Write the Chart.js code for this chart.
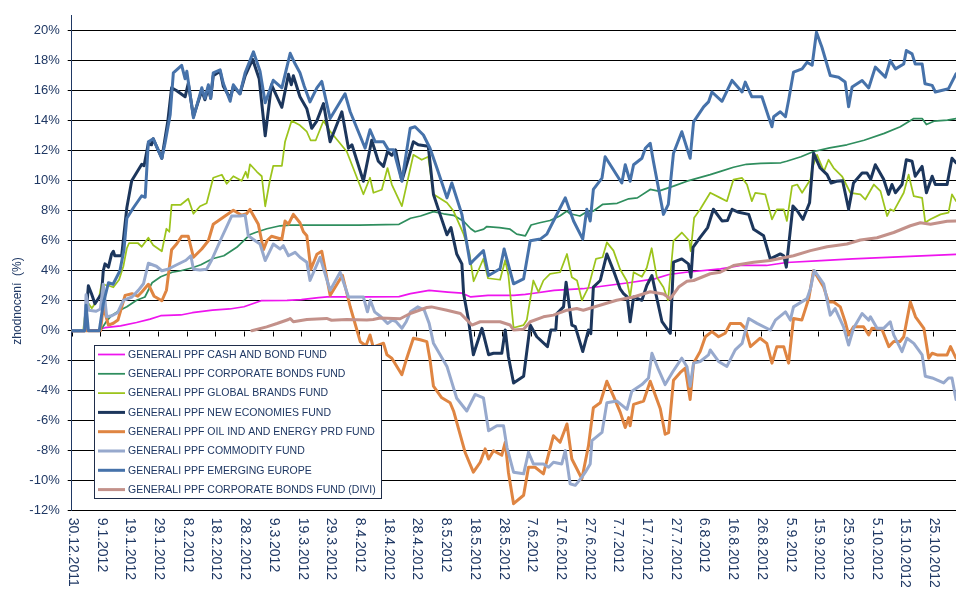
<!DOCTYPE html>
<html><head><meta charset="utf-8">
<script src="https://cdn.jsdelivr.net/npm/chart.js@4/dist/chart.umd.min.js"></script>
<style>html,body{margin:0;padding:0;background:#fff}canvas{display:block}</style>
</head><body><canvas id="c" width="964" height="598"></canvas>
<script>
// x values: days since 30.12.2011, y values: %
const seriesNames = [
  'GENERALI PPF CASH AND BOND FUND',
  'GENERALI PPF CORPORATE BONDS FUND',
  'GENERALI PPF GLOBAL BRANDS FUND',
  'GENERALI PPF NEW ECONOMIES FUND',
  'GENERALI PPF OIL IND AND ENERGY PRD FUND',
  'GENERALI PPF COMMODITY FUND',
  'GENERALI PPF EMERGING EUROPE',
  'GENERALI PPF CORPORATE BONDS FUND (DIVI)'
];
const tickLabels = ['30.12.2011','9.1.2012','19.1.2012','29.1.2012','8.2.2012','18.2.2012','28.2.2012','9.3.2012','19.3.2012','29.3.2012','8.4.2012','18.4.2012','28.4.2012','8.5.2012','18.5.2012','28.5.2012','7.6.2012','17.6.2012','27.6.2012','7.7.2012','17.7.2012','27.7.2012','6.8.2012','16.8.2012','26.8.2012','5.9.2012','15.9.2012','25.9.2012','5.10.2012','15.10.2012','25.10.2012'];
const tickStepDays = 10;
const yTickValues = [-12,-10,-8,-6,-4,-2,0,2,4,6,8,10,12,14,16,18,20];

const cashBond = [[0,0],[4,0],[9,0.05],[11.6,0.2],[17,0.33],[22.6,0.55],[27.3,0.77],[31,1.0],[38,1.05],[42,1.2],[49,1.37],[55,1.45],[60,1.6],[63,1.8],[66,2.0],[75,2.03],[80,2.07],[86,2.2],[89,2.25],[103,2.25],[114,2.28],[118,2.47],[124.5,2.69],[131,2.58],[136,2.5],[139,2.25],[145,2.36],[154,2.36],[158,2.43],[161,2.5],[168,2.69],[178,2.8],[186,3.0],[194,3.2],[203,3.46],[208,3.75],[214,3.9],[226,4.13],[233,4.35],[242,4.35],[249,4.55],[261,4.68],[272,4.79],[284,4.9],[296,5.0],[308,5.1]];

const corporateBonds = [[0,0],[10,0],[12,0.6],[14,1.04],[16.8,1.37],[19.2,1.6],[22.6,2.03],[25.5,2.25],[28,3.2],[31,3.6],[35,3.9],[38,4.0],[42,4.2],[45,4.4],[49,4.8],[53,5.0],[57.5,5.56],[62,6.4],[64,6.55],[68,6.8],[72.6,7.0],[76,7.05],[86,7.05],[100,7.05],[114,7.1],[118,7.5],[121.5,7.65],[126,7.94],[129.5,7.8],[133,7.7],[136.5,7.3],[139,6.8],[140.5,6.6],[143.5,6.77],[144.6,6.95],[149,6.88],[152.7,6.77],[155,6.44],[158,6.33],[160,7.05],[163,7.2],[166.6,7.35],[170,7.65],[172.5,7.98],[173.6,7.8],[177,7.65],[179.4,7.94],[181.7,7.98],[185,8.43],[190,8.5],[194,8.8],[197,8.86],[201.5,9.42],[204.4,9.31],[209.6,9.64],[214.3,9.97],[222.4,10.41],[226,10.63],[230.5,10.9],[235,11.1],[240,11.16],[247,11.2],[249,11.3],[254,11.6],[258.4,11.95],[264,12.2],[270,12.4],[276,12.7],[283,13.16],[288.6,13.6],[293.3,14.15],[296.2,14.15],[297.7,13.75],[300.3,13.97],[305,14.04],[308,14.15]];

const globalBrands = [[0,0],[4,0],[5.2,2.0],[7,1.5],[9.5,2.2],[10.4,3.1],[13,3.0],[14.5,2.9],[16.5,3.4],[18,4.3],[19.2,5.5],[20,5.85],[23,5.85],[24.4,5.6],[26.7,6.2],[28.4,5.7],[31.4,5.3],[33,6.8],[34,6.6],[34.8,8.4],[38,8.4],[40.6,8.8],[42.4,7.8],[44.7,8.3],[47,8.5],[49.3,10.2],[52.3,10.4],[54,9.8],[56.3,10.3],[59.2,10.0],[60.6,10.6],[61.3,10.2],[62.1,11.1],[64.5,10.6],[66.2,10.3],[67.4,8.3],[69,10.0],[70.2,11.0],[73.2,11.0],[74.3,12.6],[76.6,14.0],[79.5,13.7],[81.9,13.27],[83.2,12.7],[85,12.7],[87.7,14.0],[90,13.3],[95.8,11.95],[101.6,9.1],[103.9,10.2],[105.1,9.2],[108,9.4],[110,10.85],[111.5,9.75],[115,8.31],[119,11.73],[121.9,11.4],[124.2,11.6],[126,9.1],[130.7,8.53],[133,7.98],[136.5,6.44],[138.5,5.2],[140,3.3],[143.4,4.8],[145,3.5],[149.2,3.4],[151,4.7],[152.1,3.7],[153.9,0.2],[157.4,0.38],[158.5,0.71],[160.8,3.35],[162.6,2.58],[164.3,3.35],[166.6,3.79],[170.1,3.9],[172.5,5.12],[174.2,3.57],[176,3.35],[177.7,2.03],[180,2.91],[182.6,4.79],[184.9,4.9],[186.4,5.89],[188.7,5.34],[191,4.1],[193.4,3.3],[194.5,2.25],[195.7,3.9],[198.6,3.6],[200.3,4.2],[202,5.5],[203.8,3.57],[206.1,2.9],[207.7,2.03],[209.6,6.0],[212.5,6.55],[215.1,6.0],[215.6,5.3],[216.8,7.54],[218.9,8.1],[222.4,9.2],[225.9,8.86],[228.2,8.64],[230.5,10.08],[233.5,10.19],[235.2,9.75],[236.9,8.64],[238.1,9.2],[241.6,9.09],[243.9,7.43],[245.6,8.1],[248,8.1],[249.1,7.32],[250.9,9.64],[252.7,9.75],[254.4,9.2],[257.3,10.08],[257.9,10.85],[259.6,11.73],[262,10.63],[263.6,11.4],[265.4,10.85],[268.3,10.3],[271.2,9.2],[274.7,9.09],[276.4,8.75],[279.4,9.75],[281.7,9.31],[284,7.65],[285.1,8.1],[286.3,7.98],[289.8,9.2],[291.5,10.41],[293.3,8.97],[296.2,8.86],[297.3,7.21],[299.1,7.43],[302.6,7.76],[305.4,7.87],[306.6,9.09],[308,8.64]];

const newEconomies = [[0,0],[4.6,0],[5.8,3.0],[6.9,2.47],[8.1,1.8],[10.4,2.47],[11,4.0],[11.6,4.46],[12.8,4.24],[13.9,5.12],[14.5,5.3],[15,5.0],[17.4,5.0],[19.2,8.2],[20.9,10.0],[24.4,11.1],[25.2,11.0],[26.7,12.5],[27.8,12.4],[28.4,12.8],[31.4,11.5],[33.5,14.0],[34.8,16.2],[36.6,16.0],[39.5,15.6],[40.6,16.5],[42.4,14.3],[45.3,16.0],[46.4,15.4],[47.6,16.2],[48.4,15.5],[49.3,17.0],[51.7,17.3],[52.8,16.3],[55.2,15.5],[56.3,16.3],[58.6,15.8],[60.4,17.0],[63,18.1],[65.3,16.8],[67.4,13.0],[69.6,16.4],[73.2,14.9],[75.5,17.1],[76.5,16.4],[77.2,17.0],[79.5,15.6],[81.9,14.8],[83.6,13.5],[85.4,14.0],[87.7,15.15],[90,12.6],[94.1,14.6],[96.4,12.17],[97.6,12.4],[101.6,9.97],[104.5,12.7],[106.8,11.3],[108.6,10.96],[110,11.95],[111.5,11.7],[112.8,12.06],[115,10.0],[119,12.6],[120.7,12.4],[124.2,12.3],[126,9.09],[128.3,7.76],[130.7,6.4],[132.1,6.88],[134.1,5.12],[135.9,4.46],[136.5,2.47],[138.2,0.71],[139.9,-1.6],[142.9,0.16],[145.2,-1.6],[146.9,-1.5],[149.8,-1.5],[151,0.05],[152.1,-1.72],[153.9,-3.48],[157.4,-3.04],[159.7,0.38],[162,-0.4],[165.7,-1.06],[166.9,0.05],[168.6,0.05],[169,1.15],[171.3,1.59],[172.2,3.24],[174.2,0.38],[175.4,0.27],[178,-1.39],[180,0.05],[180.8,-0.2],[181.7,2.91],[184.1,3.35],[186.4,5.12],[188.7,4.01],[191,2.8],[192.2,2.47],[193.5,2.25],[194.5,0.6],[195.7,2.25],[198.6,2.03],[200.3,3.02],[202.1,3.68],[203.2,2.69],[205.6,0.6],[208.5,-0.17],[209.6,4.57],[212.5,4.79],[214.8,4.46],[215.7,3.57],[216.4,5.56],[218.9,6.22],[221.5,6.88],[223.5,8.1],[226.5,7.32],[228.4,7.35],[230,8.1],[232.3,7.9],[235.8,7.76],[237.5,6.77],[241,6.33],[243.3,4.79],[246.8,5.12],[248,5.0],[248.9,4.24],[251.2,8.31],[252.7,8.0],[254.7,7.43],[257,8.53],[258.4,11.84],[260.7,10.85],[263.1,10.41],[264.5,9.85],[266.4,9.97],[268.5,10.0],[270.6,8.1],[272.3,9.85],[275.3,10.52],[277,10.52],[278.3,10.1],[279.9,11.07],[282.8,10.1],[284.5,9.09],[285.7,9.75],[286.9,9.2],[289.2,9.75],[290.7,11.4],[292.7,11.3],[293.8,10.3],[296.2,10.96],[297.7,9.2],[299.7,10.3],[300.8,9.75],[304.9,9.75],[306.6,11.5],[308,11.2]];

const oilEnergy = [[0,0],[10,0],[11,1.6],[12.8,0.38],[14.5,0.5],[16.1,0.71],[18.6,2.36],[21,2.47],[23,2.3],[24.5,2.6],[26.7,3.1],[28.7,2.3],[31.4,2.0],[33,2.7],[34.8,5.4],[36.6,5.8],[38.3,6.3],[40.6,6.3],[42.4,4.9],[45.3,5.45],[47.6,6.0],[49.3,7.1],[52.3,7.5],[56.3,8.03],[59.2,7.7],[60.9,7.8],[62.1,8.09],[65,7.1],[66.8,5.4],[68,6.0],[69.6,6.3],[73.2,6.1],[74.3,7.32],[75.5,7.1],[77.2,7.76],[79.5,7.2],[80.7,6.6],[81.9,6.33],[83.3,4.1],[85.4,5.1],[87.1,5.3],[90,2.36],[94.3,3.7],[97,1.6],[100.5,-0.73],[102.5,-1.0],[103.9,-0.28],[105,-1.1],[108.6,-0.83],[109.8,-1.6],[111.5,-1.83],[115,-2.93],[116.7,-1.83],[119,-0.5],[121.4,-0.6],[123.7,-0.73],[124.8,-1.94],[126,-3.7],[128.9,-4.47],[131.8,-4.8],[133,-5.35],[137,-8.1],[139.9,-9.43],[142.3,-8.77],[144,-7.88],[145.2,-8.55],[146.9,-8.0],[149.8,-8.3],[151,-7.44],[152.1,-9.43],[153.9,-11.53],[157.4,-10.97],[159.1,-9.1],[161.4,-9.1],[164.3,-9.54],[167.8,-7.0],[170.1,-7.44],[172.5,-6.22],[174.2,-8.55],[177.7,-9.87],[180,-7.66],[181.7,-5.13],[184.1,-4.8],[186.4,-3.37],[188.7,-4.36],[191.1,-5.46],[192.8,-6.45],[194,-5.79],[194.5,-6.34],[195.7,-4.91],[199.2,-4.69],[201.5,-3.37],[205,-5.2],[206.7,-6.9],[207.9,-6.79],[209.6,-3.3],[211.9,-2.8],[213.7,-2.49],[215.4,-4.58],[216.6,-2.16],[218.9,-1.39],[220.7,-0.4],[223,-0.06],[225.3,-0.4],[227.6,-0.17],[229.4,0.49],[232.9,0.49],[234.6,0.16],[236.4,-1.06],[239.8,-0.5],[242.1,-0.84],[243.9,-2.16],[245.6,-1.06],[248,-1.06],[249.7,-2.16],[251.4,0.82],[254.3,0.71],[256.7,2.14],[258.4,4.02],[261.9,2.91],[263.6,1.92],[265.4,1.92],[267.7,1.59],[269.4,0.6],[270.6,-0.28],[272.3,0.27],[275.8,0.27],[277.6,-0.28],[278.7,0.16],[282.2,0.1],[284.6,-1.06],[286.3,-0.72],[288.5,-0.72],[289.8,-0.4],[292.1,1.92],[293.9,0.93],[296.8,0.16],[298.5,-1.83],[299.7,-1.5],[301.4,-1.61],[304.9,-1.61],[306.1,-1.06],[308,-1.83]];

const commodity = [[0,0],[4.5,0],[5,2.4],[6,1.37],[8.5,1.3],[10,1.45],[11,3.1],[12.2,0.93],[14,1.0],[16,1.2],[18,2.03],[21,2.25],[23.2,2.69],[25,3.13],[26.7,4.5],[29.5,4.3],[31.4,4.0],[33.5,4.1],[36.6,4.4],[39.8,4.7],[41.5,5.0],[42.4,4.1],[44.7,4.05],[47,4.1],[48.7,4.7],[52.2,6.2],[55.7,7.65],[58.6,7.65],[60.4,7.7],[61.5,6.33],[63.9,6.0],[65.6,5.78],[67.4,4.68],[70.2,5.78],[72.6,5.45],[73.7,5.67],[75.5,5.0],[77.8,5.23],[79.5,4.9],[81.9,4.57],[83,3.35],[86.5,4.9],[90,2.69],[93.5,3.9],[96.4,2.25],[101.6,2.25],[103,1.26],[104,2.03],[105.5,1.26],[107.7,0.93],[110,0.49],[111.7,0.71],[113,0.6],[115,0.16],[116.5,0.6],[118,1.26],[120.5,1.59],[122.8,1.37],[124.5,0.49],[126,-0.83],[130.7,-2.38],[134.1,-4.5],[137.6,-5.35],[140.5,-4.25],[143.4,-4.47],[145.2,-6.67],[148.1,-6.34],[150.4,-6.34],[151.6,-7.77],[153.9,-9.43],[157.4,-9.54],[159.1,-8.1],[160.8,-8.88],[164.3,-8.88],[166.1,-9.1],[167.8,-8.77],[170.7,-8.88],[171.9,-7.99],[173.6,-10.2],[175.4,-10.31],[177.7,-9.76],[178.9,-9.43],[180.6,-8.88],[181.2,-7.33],[184.7,-6.78],[186.4,-4.8],[189.9,-4.69],[193.4,-5.24],[195.1,-4.03],[198.6,-3.59],[200.9,-3.15],[202.1,-1.5],[204.4,-2.6],[206.7,-3.59],[209.3,-2.75],[212.5,-1.83],[214.3,-2.4],[215.4,-3.7],[216.6,-2.16],[218.9,-2.05],[221.8,-1.61],[222.4,-1.28],[225.3,-2.05],[228.2,-2.38],[231.1,-1.28],[233.5,-0.84],[235.8,0.82],[238.7,0.49],[243.3,0.05],[245.1,0.71],[248.6,1.26],[250.3,0.71],[251.4,1.59],[256.1,2.14],[257.3,2.8],[258.6,4.02],[261.9,3.13],[264.2,1.04],[265.9,1.48],[268.8,0.27],[270.6,-0.95],[272.3,0.16],[275.3,1.15],[277.6,0.71],[278.2,0.93],[280.5,0.16],[282.8,0.16],[285.1,0.6],[286.3,-0.28],[289.2,-1.39],[290.9,-0.5],[293.3,-0.84],[296.2,-1.61],[297.3,-3.04],[299.7,-3.15],[303.7,-3.48],[305.4,-3.15],[306.6,-3.15],[308,-4.58]];

const emergingEurope = [[0,0],[4.5,0],[5,1.7],[5.8,0],[9.6,0],[11,1.8],[12.8,3.2],[14.4,3.1],[16.8,4.0],[18.2,5.4],[19.2,7.5],[21.5,8.2],[24.4,9.0],[25.6,8.9],[26.7,12.6],[28.4,12.8],[31.4,11.5],[32.5,12.5],[34.3,14.4],[35.4,17.2],[38.3,17.7],[39.5,16.8],[40.1,17.3],[42.4,14.2],[45.3,16.2],[46.4,15.5],[47.6,16.4],[48.4,15.5],[49.3,17.2],[51.7,17.4],[52.8,16.5],[55.2,15.3],[56.3,16.4],[58.6,15.8],[60.4,17.2],[63.3,18.6],[65.6,17.3],[67.4,15.2],[70.2,16.7],[73.2,16.2],[76.1,18.5],[77.8,17.8],[79.5,17.2],[81,16.3],[83,15.26],[85.4,16.2],[87.1,16.63],[90,14.15],[95.2,15.8],[97,14.6],[102.2,12.17],[103.9,13.4],[105.7,12.6],[108.6,12.6],[110.3,12.06],[112.1,12.06],[115,9.97],[117.9,13.5],[119.6,13.6],[122.5,13.05],[124.8,12.17],[127.2,10.85],[130.7,8.86],[132.4,9.85],[135.9,7.76],[138.8,4.46],[139.9,4.68],[143.4,5.34],[145.2,3.68],[149.2,4.13],[150.6,5.45],[153.9,3.13],[157.4,3.46],[159.7,6.0],[163.2,6.11],[165.5,6.44],[167.8,7.32],[171.9,8.86],[174.8,7.32],[178,6.11],[179.4,8.1],[180.6,7.32],[181.7,9.42],[184.7,10.18],[185.8,11.6],[191.6,9.85],[192.8,11.07],[194.5,9.97],[195.7,11.07],[198.6,11.5],[199.8,12.17],[201.5,12.5],[202.6,11.3],[206.1,7.76],[207.8,8.43],[209.6,11.84],[212.5,13.27],[214.3,12.17],[215.4,11.5],[216.6,13.93],[220.1,14.93],[221.8,15.26],[223,15.92],[226.5,15.3],[230,16.69],[233.5,15.92],[234.6,16.58],[236.9,15.6],[240.4,15.6],[242.7,14.27],[243.9,13.6],[244.5,14.27],[246.8,14.6],[248.6,14.27],[249.7,15.37],[251.4,17.24],[254.4,17.46],[256.1,17.9],[257.9,17.7],[259.4,19.9],[261.3,18.9],[264.2,17.02],[267.1,16.9],[269.4,16.58],[270.6,14.93],[271.8,16.25],[275.3,16.69],[277.6,16.19],[279.9,17.58],[283.4,16.91],[285.1,18.02],[286.9,17.46],[289.8,17.79],[290.7,18.68],[292.7,18.46],[293.8,17.79],[296.2,17.79],[297.2,16.47],[299.7,16.36],[300.8,15.92],[305.4,16.14],[308,17.13]];

const corporateBondsDivi = [[62.7,0],[67.9,0.26],[71.5,0.48],[75.5,0.75],[76.1,0.82],[77.2,0.6],[81.9,0.75],[88.8,0.82],[90.5,0.7],[95.8,0.75],[102.8,0.71],[105,0.75],[107.4,0.85],[114.4,0.8],[117.9,1.15],[123.7,1.55],[125.3,1.59],[130.7,1.37],[135.4,1.15],[137.7,0.71],[139.4,0.38],[142.3,0.6],[149.2,0.6],[152.7,0.38],[153.9,0.05],[157.4,0.1],[159.7,0.6],[164.3,0.93],[167.8,1.04],[172.5,1.37],[175.9,1.48],[178.2,1.37],[184,1.7],[189.8,2.03],[195.7,2.25],[201.5,2.6],[206.1,2.45],[208.5,2.14],[211.4,2.91],[214.3,3.3],[216.6,3.35],[222.4,3.8],[225.9,3.9],[230.5,4.35],[237.5,4.57],[243.3,4.68],[251.4,5.0],[257.3,5.34],[263.1,5.6],[270,5.78],[274.7,6.05],[280.5,6.2],[286.3,6.55],[292.1,7.0],[295.6,7.2],[299.1,7.1],[304.9,7.3],[308,7.32]];

const seriesData = [cashBond, corporateBonds, globalBrands, newEconomies, oilEnergy, commodity, emergingEurope, corporateBondsDivi];
const seriesColors = ['#EE14EE','#2F8E5E','#9CC41C','#1C365C','#DF8542','#97A9CD','#4672AA','#C3918A'];
const seriesWidths = [1.75,1.75,1.75,3,3,3,3,3];

const textColor = '#1F3864';
const FONT = '"Liberation Sans", Arial, sans-serif';

const overlay = {
  id: 'overlay',
  beforeDatasetsDraw(chart) {
    const {ctx, scales: {x, y}} = chart;
    const y0 = Math.round(y.getPixelForValue(0)) + 0.5;
    ctx.save();
    ctx.strokeStyle = '#000';
    ctx.lineWidth = 1;
    ctx.beginPath();
    tickLabels.forEach((_, i) => {
      const px = Math.round(x.getPixelForValue(i * tickStepDays)) + 0.5;
      ctx.moveTo(px, y0);
      ctx.lineTo(px, y0 + 5);
    });
    ctx.stroke();
    ctx.restore();
  },
  afterDraw(chart) {
    const {ctx, scales: {x, y}, chartArea} = chart;
    ctx.save();
    ctx.fillStyle = textColor;
    ctx.font = '14px ' + FONT;
    ctx.textAlign = 'left';
    ctx.textBaseline = 'middle';
    tickLabels.forEach((lab, i) => {
      const px = x.getPixelForValue(i * tickStepDays) + 1;
      ctx.save();
      ctx.translate(px, chartArea.bottom + 7);
      ctx.rotate(Math.PI / 2);
      ctx.fillText(lab, 0, 0);
      ctx.restore();
    });
    ctx.save();
    ctx.font = '12px ' + FONT;
    ctx.textAlign = 'center';
    ctx.textBaseline = 'middle';
    ctx.translate(18, 301);
    ctx.rotate(-Math.PI / 2);
    ctx.fillText('zhodnocení  (%)', 0, 0);
    ctx.restore();
    const bx = 94.5, by = 345.5, bw = 287, bh = 153;
    ctx.fillStyle = '#fff';
    ctx.fillRect(bx, by, bw, bh);
    ctx.strokeStyle = '#1F2D4A';
    ctx.lineWidth = 1;
    ctx.strokeRect(bx, by, bw, bh);
    ctx.font = '10.5px ' + FONT;
    ctx.textAlign = 'left';
    ctx.textBaseline = 'middle';
    chart.data.datasets.forEach((ds, i) => {
      const ry = 354.5 + i * 19.3;
      ctx.strokeStyle = ds.borderColor;
      ctx.lineWidth = ds.borderWidth;
      ctx.beginPath();
      ctx.moveTo(98, ry);
      ctx.lineTo(125, ry);
      ctx.stroke();
      ctx.fillStyle = textColor;
      ctx.fillText(ds.label, 128, ry + 0.5);
    });
    ctx.restore();
  }
};

const datasets = seriesNames.map((name, i) => ({
  label: name,
  data: seriesData[i].map(p => ({x: p[0], y: p[1]})),
  borderColor: seriesColors[i],
  backgroundColor: seriesColors[i],
  borderWidth: seriesWidths[i],
  pointRadius: 0,
  tension: 0,
  fill: false,
  borderJoinStyle: 'round',
  borderCapStyle: 'round',
  order: seriesNames.length - i
}));

new Chart(document.getElementById('c'), {
  type: 'line',
  data: { datasets },
  plugins: [overlay],
  options: {
    responsive: false,
    animation: false,
    devicePixelRatio: 1,
    layout: { padding: { top: 13, right: 8, bottom: 0, left: 0 } },
    plugins: { legend: { display: false }, tooltip: { enabled: false } },
    events: [],
    scales: {
      x: {
        type: 'linear',
        min: 0,
        max: 308,
        ticks: { display: false, stepSize: tickStepDays },
        grid: { display: false },
        border: { display: false },
        afterFit(scale) { scale.height = 87.3; }
      },
      y: {
        type: 'linear',
        min: -12,
        max: 21,
        ticks: {
          stepSize: 2,
          includeBounds: false,
          color: textColor,
          font: { family: FONT, size: 13 },
          padding: 8,
          callback: v => v + '%'
        },
        afterBuildTicks(scale) { scale.ticks = yTickValues.map(v => ({ value: v })); },
        grid: { color: '#000', lineWidth: 1, tickLength: 4, drawTicks: true },
        border: { display: true, color: '#1F3864', width: 1 },
        afterFit(scale) { scale.width = 71.7; }
      }
    }
  }
});
</script>
</body></html>
